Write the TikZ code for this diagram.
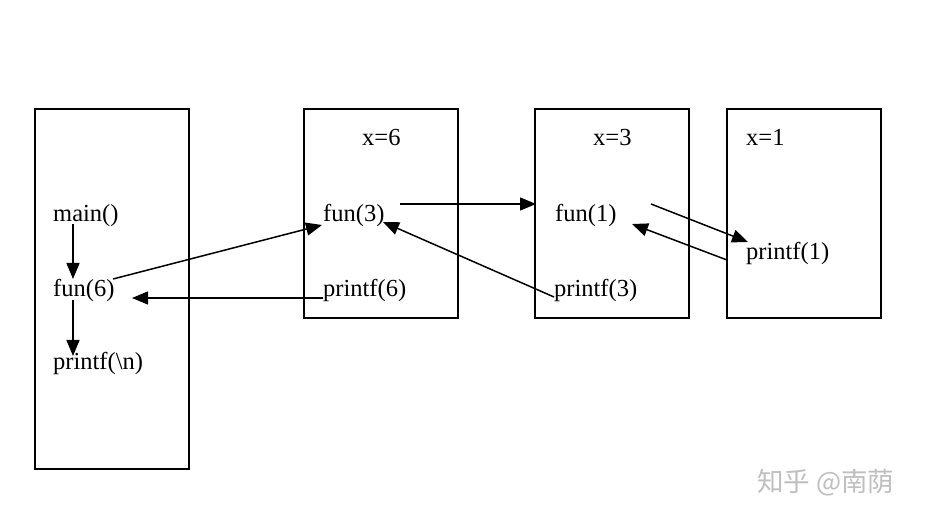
\documentclass[tikz,border=0pt]{standalone}
\usepackage{fontspec}
\setmainfont{Liberation Serif}
\newfontfamily\cjkfont{Noto Sans CJK SC}
\usetikzlibrary{arrows.meta}
\begin{document}
\begin{tikzpicture}[x=1bp,y=-1bp,
  frame/.style={draw=black,line width=1.5bp},
  lbl/.style={anchor=base west,inner sep=0pt,font=\fontsize{24.5bp}{29bp}\selectfont},
  arr/.style={line width=1.5bp,-{Triangle[length=16bp,width=13bp]}}]
\useasboundingbox (0,0) rectangle (926,521);
\fill[white] (0,0) rectangle (926,521);
% boxes
\draw[frame] (35,109) rectangle (189,469);
\draw[frame] (304,109) rectangle (458,318);
\draw[frame] (535,109) rectangle (689,318);
\draw[frame] (727,109) rectangle (881,318);
% labels
\node[lbl] (main) at (53,222) {main()};
\node[lbl] (fun6) at (53,297) {fun(6)};
\node[lbl] (pn) at (53,370) {printf(\textbackslash n)};
\node[lbl] (x6) at (362,146) {x=6};
\node[lbl] (fun3) at (323,222) {fun(3)};
\node[lbl] (p6) at (323,297) {printf(6)};
\node[lbl] (x3) at (593,146) {x=3};
\node[lbl] (fun1) at (555,222) {fun(1)};
\node[lbl] (p3) at (554,297) {printf(3)};
\node[lbl] (x1) at (746,146) {x=1};
\node[lbl] (p1) at (746,260) {printf(1)};
% connector end points
\coordinate (a1s) at (73,224); \coordinate (a1e) at (73,279);
\coordinate (a2s) at (73,300); \coordinate (a2e) at (73,356);
\coordinate (a3s) at (113,279); \coordinate (a3e) at (322,225);
\coordinate (a4s) at (323,298); \coordinate (a4e) at (132,298);
\coordinate (a5s) at (400,204); \coordinate (a5e) at (536,204);
\coordinate (a6s) at (554,297); \coordinate (a6e) at (383,222);
\coordinate (a7s) at (651,204); \coordinate (a7e) at (748,242);
\coordinate (a8s) at (727,260); \coordinate (a8e) at (632,224);
\draw[arr] (a1s) -- (a1e);
\draw[arr] (a2s) -- (a2e);
\draw[arr] (a3s) -- (a3e);
\draw[arr] (a4s) -- (a4e);
\draw[arr] (a5s) -- (a5e);
\draw[arr] (a6s) -- (a6e);
\draw[arr] (a7s) -- (a7e);
\draw[arr] (a8s) -- (a8e);
% watermark
\node[anchor=west,inner sep=0pt,text=black!25,font=\cjkfont\fontsize{26.5bp}{30bp}\selectfont] (wm) at (757,483) {知乎 @南荫};
\end{tikzpicture}
\end{document}
